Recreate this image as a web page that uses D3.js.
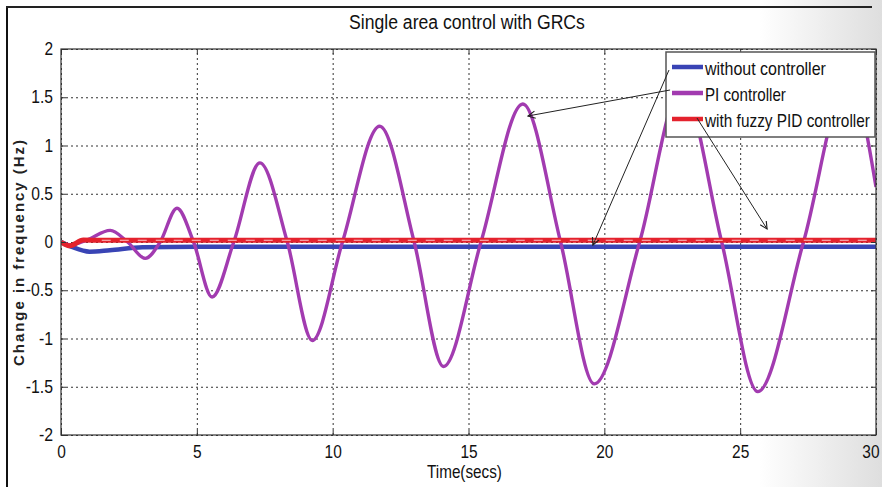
<!DOCTYPE html>
<html><head><meta charset="utf-8">
<script src="https://cdn.jsdelivr.net/npm/d3@7"></script>
<style>
body{margin:0;background:#fff;}
svg{display:block;}
</style></head><body>
<svg id="c" width="882" height="487"></svg>
<script>
// ---- data ----
const xTicks=[0,5,10,15,20,25,30];
const xTickLabels=["0","5","10","15","20","25","30"];
const yTicks=[-2,-1.5,-1,-0.5,0,0.5,1,1.5,2];
const yTickLabels=["-2","-1.5","-1","-0.5","0","0.5","1","1.5","2"];
const seriesNames=["without controller","PI controller","with fuzzy PID controller"];
const seriesColors=["#3944b5","#a23bb0","#e4222d"];
const tWithout=[0,0.4,1.05,1.8,3.0,5,30];
const vWithout=[0,-0.05,-0.1,-0.085,-0.055,-0.05,-0.05];
const tPI=[0,0.35,0.95,1.81,2.45,3.1,3.65,4.27,4.88,5.56,6.36,7.32,8.33,9.25,10.36,11.73,13.0,14.08,15.46,17.0,18.39,19.63,21.3,22.85,24.32,25.65,27.33,29.0,30];
const vPI=[0,-0.03,0.02,0.12,0,-0.17,0,0.35,0,-0.57,0,0.82,0,-1.02,0,1.2,0,-1.29,0,1.43,0,-1.47,0,1.6,0,-1.55,0,1.7,0.57];
const tFuzzy=[0,0.33,0.82,1.5,30];
const vFuzzy=[0,-0.04,0.02,0.018,0.018];
// annotation arrows (data units)
const arrowFrom=[[22.42,1.575],[22.38,1.782],[23.41,1.285]];
const arrowTo=[[17.19,1.306],[19.58,-0.031],[25.99,0.135]];

const svg=d3.select("#c");
const W=882,H=487;
const L=61,R=876,T=49,B=435;
const x=d3.scaleLinear().domain([0,30]).range([L,R]);
const y=d3.scaleLinear().domain([-2,2]).range([B,T]);
const font="'Liberation Sans',Arial,sans-serif";
// approximate narrow-font widths
const cw={"-":5.5,".":4.5};
const numW=s=>[...s].reduce((a,c)=>a+(cw[c]||8.6),0);
// squeeze a text horizontally to a target width (narrow-font look)
function fit(sel,px,py,target){
  const n=sel.node().getComputedTextLength();
  sel.attr("x",0).attr("y",0).attr("transform",`translate(${px},${py}) scale(${target/n},1)`);
}

const defs=svg.append("defs");
const g1=defs.append("linearGradient").attr("id","bg").attr("x1","0").attr("x2","1").attr("y1","0").attr("y2","0");
g1.append("stop").attr("offset","0").attr("stop-color","#ffffff");
g1.append("stop").attr("offset","0.86").attr("stop-color","#ffffff");
g1.append("stop").attr("offset","1").attr("stop-color","#dedede");
defs.append("clipPath").attr("id","clip").append("rect").attr("x",L).attr("y",T).attr("width",R-L).attr("height",B-T);
defs.append("marker").attr("id","arr").attr("viewBox","0 0 10 10").attr("refX",9).attr("refY",5)
  .attr("markerWidth",9).attr("markerHeight",9).attr("markerUnits","userSpaceOnUse").attr("orient","auto")
  .append("path").attr("d","M1,1 L9,5 L1,9").attr("fill","none").attr("stroke","#222").attr("stroke-width",1.3);

svg.append("rect").attr("width",W).attr("height",H).attr("fill","url(#bg)");
// outer frame
svg.append("line").attr("x1",7).attr("x2",7).attr("y1",6).attr("y2",H).attr("stroke","#111").attr("stroke-width",2);
svg.append("line").attr("x1",6).attr("x2",872).attr("y1",7).attr("y2",7).attr("stroke","#222").attr("stroke-width",2);

// plot bg
svg.append("rect").attr("x",L).attr("y",T).attr("width",R-L).attr("height",B-T).attr("fill","#fff");

// grid
const gridX=svg.append("g").attr("transform",`translate(0,${B})`)
  .call(d3.axisBottom(x).tickValues(xTicks).tickSize(-(B-T)).tickFormat(""));
const gridY=svg.append("g").attr("transform",`translate(${L},0)`)
  .call(d3.axisLeft(y).tickValues(yTicks).tickSize(-(R-L)).tickFormat(""));
[gridX,gridY].forEach(g=>{g.select(".domain").remove();
  g.selectAll(".tick line").attr("stroke","#333").attr("stroke-dasharray","2,3").attr("stroke-width",1);});

// lines
const line=d3.line().x(d=>x(d[0])).y(d=>y(d[1])).curve(d3.curveMonotoneX);
const plot=svg.append("g").attr("clip-path","url(#clip)");
const dW=tWithout.map((t,i)=>[t,vWithout[i]]);
const dP=tPI.map((t,i)=>[t,vPI[i]]);
const dF=tFuzzy.map((t,i)=>[t,vFuzzy[i]]);
plot.append("path").attr("d",line(dW)).attr("fill","none").attr("stroke",seriesColors[0]).attr("stroke-width",4.5);
plot.append("path").attr("d",line(dP)).attr("fill","none").attr("stroke",seriesColors[1]).attr("stroke-width",3.4).attr("stroke-linejoin","round");
plot.append("path").attr("d",line(dF)).attr("fill","none").attr("stroke",seriesColors[2]).attr("stroke-width",5);
plot.append("path").attr("d",line(dF.filter(d=>d[0]>=1.5))).attr("fill","none").attr("stroke","#fff")
  .attr("stroke-width",1).attr("stroke-dasharray","9,9").attr("opacity",0.75);

// axes with inward ticks
const ax=svg.append("g").attr("transform",`translate(0,${B})`)
  .call(d3.axisBottom(x).tickValues(xTicks).tickSize(-5).tickPadding(11).tickFormat((d,i)=>xTickLabels[i]));
const axT=svg.append("g").attr("transform",`translate(0,${T})`)
  .call(d3.axisTop(x).tickValues(xTicks).tickSize(-5).tickFormat(""));
const ay=svg.append("g").attr("transform",`translate(${L},0)`)
  .call(d3.axisLeft(y).tickValues(yTicks).tickSize(-5).tickPadding(8).tickFormat((d,i)=>yTickLabels[i]));
const ayR=svg.append("g").attr("transform",`translate(${R},0)`)
  .call(d3.axisRight(y).tickValues(yTicks).tickSize(-5).tickFormat(""));
[ax,axT,ay,ayR].forEach(g=>{g.select(".domain").remove();g.selectAll(".tick line").attr("stroke","#333");
  g.selectAll("text").attr("font-family",font).attr("font-size",17.5).attr("fill","#111")
   .attr("lengthAdjust","spacingAndGlyphs").attr("textLength",function(){return numW(this.textContent);});});
// last x label: keep inside the page
ax.selectAll(".tick").filter(d=>d===30).select("text").attr("text-anchor","end").attr("x",3);
svg.append("rect").attr("x",L).attr("y",T).attr("width",R-L).attr("height",B-T).attr("fill","none").attr("stroke","#333").attr("stroke-width",1.2);

// legend
const lg=svg.append("g");
lg.append("rect").attr("x",666).attr("y",52).attr("width",209).attr("height",85).attr("fill","#fff").attr("stroke","#555").attr("stroke-width",1.5);
const lgY=[67,93,119];
const lgW=[121,81,165];
seriesNames.forEach((n,i)=>{
  lg.append("line").attr("x1",672).attr("x2",703).attr("y1",lgY[i]).attr("y2",lgY[i]).attr("stroke",seriesColors[i]).attr("stroke-width",4.5);
  const t=lg.append("text").attr("font-family",font).attr("font-size",18).attr("fill","#111").text(n);
  fit(t,705,lgY[i]+8,lgW[i]);
});

// arrows
arrowFrom.forEach((a,i)=>{
  svg.append("line").attr("x1",x(a[0])).attr("y1",y(a[1])).attr("x2",x(arrowTo[i][0])).attr("y2",y(arrowTo[i][1]))
    .attr("stroke","#222").attr("stroke-width",1).attr("marker-end","url(#arr)");
});

// titles
const tt=svg.append("text").attr("font-family",font).attr("font-size",21).attr("fill","#111").text("Single area control with GRCs");
fit(tt,349,29,236);
const xt=svg.append("text").attr("font-family",font).attr("font-size",18).attr("fill","#111").text("Time(secs)");
fit(xt,427,478,75);
svg.append("text").attr("transform","translate(24,253) rotate(-90)").attr("text-anchor","middle")
  .attr("font-family",font).attr("font-weight","bold").attr("font-size",15)
  .attr("textLength",226).attr("lengthAdjust","spacing").attr("fill","#222").text("Change in frequency (Hz)");
</script></body></html>
